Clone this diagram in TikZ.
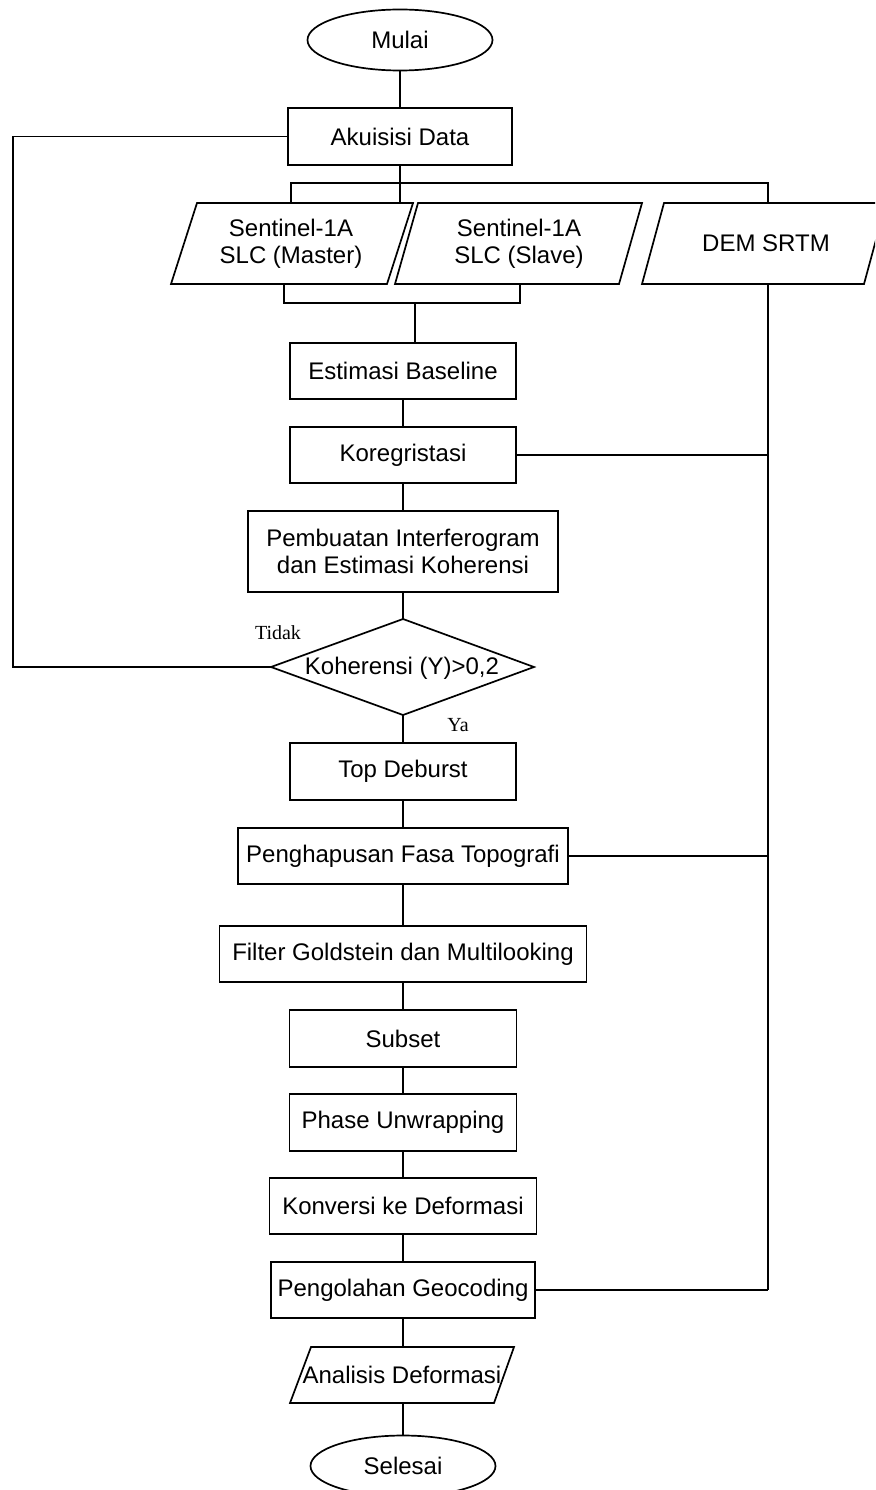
\documentclass[tikz,border=0pt]{standalone}
\usepackage{fontspec}
\setmainfont{Liberation Sans}
\newfontfamily\notefont{Liberation Serif}
\usetikzlibrary{shapes.geometric}
\begin{document}
\begin{tikzpicture}[x=1pt,y=-1pt,line width=1.7pt,
  box/.style={draw, rectangle, inner sep=0pt, align=center, font=\fontsize{24}{27}\selectfont},
  term/.style={draw, ellipse, inner sep=0pt, minimum width=185pt, minimum height=61pt, font=\fontsize{24}{27}\selectfont},
  txt/.style={inner sep=0pt, align=center, font=\fontsize{24}{27}\selectfont},
  lbl/.style={inner sep=0pt, font=\notefont\fontsize{20}{24}\selectfont}]
\useasboundingbox (0,0) rectangle (875,1490);
\clip (0,0) rectangle (875,1490);
\fill[white] (0,0) rectangle (875,1490);

% terminals and process boxes
\node[term] (mulai) at (400,40) {Mulai};
\node[box, minimum width=224pt, minimum height=57pt] (akuisisi) at (400,136.5) {Akuisisi Data};

% input parallelograms
\draw (197,203) -- (413,203) -- (387,284) -- (171,284) -- cycle;
\node[txt] (master) at (291,243.5) {Sentinel-1A\\SLC (Master)};
\draw (418,203) -- (642,203) -- (619,284) -- (395,284) -- cycle;
\node[txt] (slave) at (519,243.5) {Sentinel-1A\\SLC (Slave)};
\draw (664,203) -- (886,203) -- (864,284) -- (642,284) -- cycle;
\node[txt] (dem) at (766,243.5) {DEM SRTM};

\node[box, minimum width=226pt, minimum height=56pt] (est) at (403,371) {Estimasi Baseline};
\node[box, minimum width=226pt, minimum height=56pt] (kor) at (403,455) {Koregristasi};
\node[box, minimum width=310pt, minimum height=81pt] (pemb) at (403,551.5) {Pembuatan Interferogram\\dan Estimasi Koherensi};

% decision
\coordinate (dT) at (403,619);
\coordinate (dR) at (534,667);
\coordinate (dB) at (403,715);
\coordinate (dL) at (271,667);
\draw (dT) -- (dR) -- (dB) -- (dL) -- cycle;
\node[txt] (dec) at (402,668) {Koherensi (Y)>0,2};
\node[lbl] (tidak) at (278,633) {Tidak};
\node[lbl] (ya) at (458,725) {Ya};

\node[box, minimum width=226pt, minimum height=57pt] (top) at (403,771.5) {Top Deburst};
\node[box, minimum width=330pt, minimum height=56pt] (hapus) at (403,856) {Penghapusan Fasa Topografi};
\node[box, minimum width=367pt, minimum height=56pt] (filter) at (403,954) {Filter Goldstein dan Multilooking};
\node[box, minimum width=227pt, minimum height=57pt] (subset) at (403,1038.5) {Subset};
\node[box, minimum width=227pt, minimum height=57pt] (phase) at (403,1122.5) {Phase Unwrapping};
\node[box, minimum width=267pt, minimum height=56pt] (konv) at (403,1206) {Konversi ke Deformasi};
\node[box, minimum width=264pt, minimum height=56pt] (geo) at (403,1290) {Pengolahan Geocoding};

% output parallelogram
\draw (311,1347) -- (514,1347) -- (494,1403) -- (290,1403) -- cycle;
\node[txt] (anal) at (402,1375) {Analisis Deformasi};
\coordinate (aT) at (403,1347);
\coordinate (aB) at (403,1403);
\node[term] (selesai) at (403,1466) {Selesai};

% connectors
\draw (mulai) -- (akuisisi);
\coordinate (jA) at (400,203);
\coordinate (jB) at (414,203);
\draw (akuisisi.south) -- (jA) -- (jB);
\coordinate (busL) at (291,183);
\coordinate (busR) at (768,183);
\coordinate (mTop) at (291,203);
\coordinate (dTop) at (768,203);
\draw (mTop) -- (busL) -- (busR) -- (dTop);
\coordinate (mBot) at (284,284);
\coordinate (sBot) at (520,284);
\coordinate (b2L) at (284,303);
\coordinate (b2R) at (520,303);
\coordinate (b2M) at (415,303);
\draw (mBot) -- (b2L) -- (b2R) -- (sBot);
\draw (b2M) -- (b2M |- est.north);
\draw (est) -- (kor);
\draw (kor) -- (pemb);
\draw (pemb.south) -- (dT);
\draw (dB) -- (top.north);
\draw (top) -- (hapus);
\draw (hapus) -- (filter);
\draw (filter) -- (subset);
\draw (subset) -- (phase);
\draw (phase) -- (konv);
\draw (konv) -- (geo);
\draw (geo.south) -- (aT);
\draw (aB) -- (selesai.north);

% loop back
\coordinate (loopB) at (13,667);
\draw (dL) -- (loopB) |- (akuisisi.west);

% DEM line
\coordinate (demBot) at (768,284);
\coordinate (demEnd) at (768,1290);
\draw (demBot) -- (demEnd);
\draw (kor.east) -- (kor.east -| demBot);
\draw (hapus.east) -- (hapus.east -| demBot);
\draw (geo.east) -- (demEnd);
\end{tikzpicture}
\end{document}
